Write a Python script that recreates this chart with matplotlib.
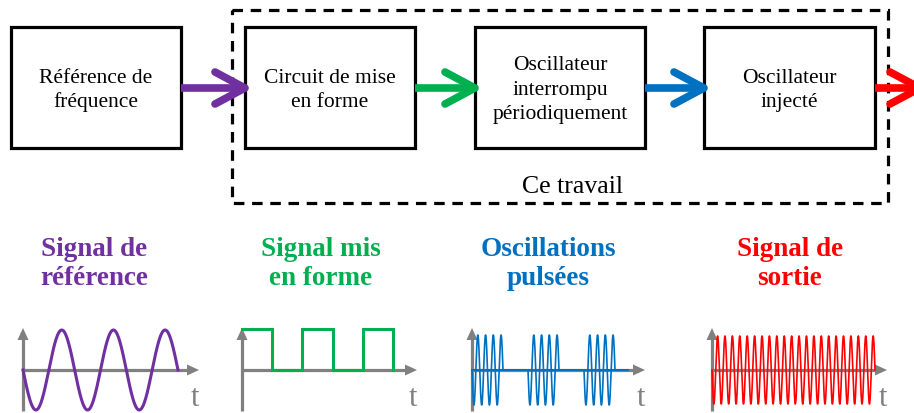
import numpy as np
import matplotlib
matplotlib.use("Agg")
import matplotlib.pyplot as plt
from matplotlib.patches import Rectangle, Polygon

# ======================
# DATA
# ======================
BOX_LABELS = [
    ["Référence de", "fréquence"],
    ["Circuit de mise", "en forme"],
    ["Oscillateur", "interrompu", "périodiquement"],
    ["Oscillateur", "injecté"],
]
BOX_LEFT   = [11, 245, 475, 704]
BOX_RIGHT  = [181, 415, 645, 875]
ARROW_END  = [245, 475, 704, 920]
COLORS     = ["#7030A0", "#00B050", "#0070C0", "#FF0000"]

HEADINGS   = [["Signal de", "référence"], ["Signal mis", "en forme"],
              ["Oscillations", "pulsées"], ["Signal de", "sortie"]]
HEAD_X     = [94, 321, 548, 790]

FRAME_LABEL = "Ce travail"

# waveform panels: origin x, axis end x
PANEL_X0   = [23, 242, 472, 712]
PANEL_X1   = [199, 417, 645, 887]

SINE_CYCLES   = 3      # reference signal
SQUARE_HALVES = 5      # shaped signal, number of half periods
BURST_STARTS  = [472, 528, 584]
BURST_CYCLES  = 4
BURST_WIDTH   = 31
OUT_CYCLES    = 22

GRAY = "#808080"
SERIF = "Liberation Serif"

# ======================
# FIGURE
# ======================
fig = plt.figure(figsize=(9.14, 4.13), dpi=100)
ax = fig.add_axes([0, 0, 1, 1])
ax.set_xlim(0, 914)
ax.set_ylim(413, 0)
ax.axis("off")

# dashed frame
ax.add_patch(Rectangle((232, 10), 888 - 232, 203 - 10, fill=False,
                       lw=2.3, ls=(0, (3.3, 2.4)), ec="black"))
ax.text(573, 193, FRAME_LABEL, family=SERIF, fontsize=18.5,
        ha="center", va="baseline")

# boxes
for lab, l, r in zip(BOX_LABELS, BOX_LEFT, BOX_RIGHT):
    ax.add_patch(Rectangle((l, 27), r - l, 148 - 27, fill=False,
                           lw=2.3, ec="black", joinstyle="miter"))
    n = len(lab)
    for i, line in enumerate(lab):
        y = 95 + (i - (n - 1) / 2) * 24.5
        ax.text((l + r) / 2, y, line, family=SERIF, fontsize=15.5,
                ha="center", va="baseline")

# arrows between boxes
for start, end, c in zip(BOX_RIGHT, ARROW_END, COLORS):
    ax.plot([start, end - 2], [88, 88], color=c, lw=5.5,
            solid_capstyle="butt")
    ax.plot([end - 30, end, end - 30], [72, 88, 104], color=c, lw=5.5,
            solid_capstyle="round", solid_joinstyle="round")

# headings
for lines, x, c in zip(HEADINGS, HEAD_X, COLORS):
    for i, line in enumerate(lines):
        ax.text(x, 256 + i * 29, line, family=SERIF, fontweight="bold",
                fontsize=19.5, color=c, ha="center", va="baseline")

# ======================
# WAVEFORM AXES
# ======================
Y0 = 370
for x0, x1 in zip(PANEL_X0, PANEL_X1):
    ax.plot([x0, x0], [411, 338], color=GRAY, lw=2.3, solid_capstyle="butt")
    ax.add_patch(Polygon([[x0 - 5.5, 340], [x0, 328], [x0 + 5.5, 340]],
                         closed=True, color=GRAY, lw=0))
    ax.plot([x0, x1 - 10], [Y0, Y0], color=GRAY, lw=2.3, solid_capstyle="butt")
    ax.add_patch(Polygon([[x1 - 12, Y0 - 5.5], [x1, Y0], [x1 - 12, Y0 + 5.5]],
                         closed=True, color=GRAY, lw=0))
    ax.text(x1 - 4, 406, "t", family=SERIF, fontsize=22, color=GRAY,
            ha="center", va="baseline")

# reference sine
x = np.linspace(PANEL_X0[0], 178, 600)
ph = (x - PANEL_X0[0]) / (178 - PANEL_X0[0]) * SINE_CYCLES
ax.plot(x, Y0 + 40 * np.sin(2 * np.pi * ph), color=COLORS[0], lw=2.2)

# shaped square signal
half = 151 / SQUARE_HALVES
sx, sy = [PANEL_X0[1]], [329]
for k in range(SQUARE_HALVES):
    lvl = 329 if k % 2 == 0 else Y0
    xe = PANEL_X0[1] + (k + 1) * half
    sx += [xe]
    sy += [lvl]
    nxt = Y0 if k % 2 == 0 else 329
    sx += [xe]
    sy += [nxt]
sx[-1] = sx[-2]
sy[-1] = Y0
ax.plot(sx, sy, color=COLORS[1], lw=2.2, solid_joinstyle="miter")

# pulsed oscillations
ax.plot([PANEL_X0[2], 628], [Y0, Y0], color=COLORS[2], lw=1.4)
for bs in BURST_STARTS:
    xb = np.linspace(bs, bs + BURST_WIDTH, 400)
    ph = (xb - bs) / BURST_WIDTH * BURST_CYCLES
    ax.plot(xb, Y0 + 35 * np.sin(2 * np.pi * ph), color=COLORS[2], lw=1.2)

# output signal
xo = np.linspace(PANEL_X0[3], 875, 3000)
ph = (xo - PANEL_X0[3]) / (875 - PANEL_X0[3]) * OUT_CYCLES
ax.plot(xo, Y0 + 34 * np.sin(2 * np.pi * ph), color=COLORS[3], lw=1.2)

fig.savefig("out.png", dpi=100)
